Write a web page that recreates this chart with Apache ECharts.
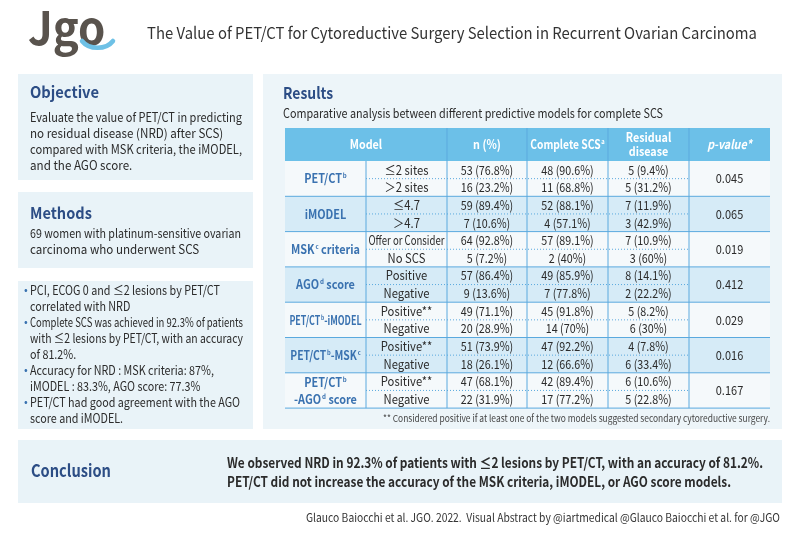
<!DOCTYPE html>
<html><head><meta charset="utf-8">
<script src="https://cdn.jsdelivr.net/npm/echarts@6/dist/echarts.min.js"></script>
<style>html,body{margin:0;padding:0;background:#fff}#c{width:800px;height:534px}</style>
</head><body><div id="c"></div>
<script>
// ---------- DATA ----------
const titleText = 'The Value of PET/CT for Cytoreductive Surgery Selection in Recurrent Ovarian Carcinoma';
const objectiveLines = ['Evaluate the value of PET/CT in predicting','no residual disease (NRD) after SCS)','compared with MSK criteria, the iMODEL,','and the AGO score.'];
const methodsLines = ['69 women with platinum-sensitive ovarian','carcinoma who underwent SCS'];
const bulletLines = [
  ['PCI, ECOG 0 and ≤2 lesions by PET/CT','correlated with NRD'],
  ['Complete SCS was achieved in 92.3% of patients','with ≤2 lesions by PET/CT, with an accuracy','of 81.2%.'],
  ['Accuracy for NRD : MSK criteria: 87%,','iMODEL : 83.3%, AGO score: 77.3%'],
  ['PET/CT had good agreement with the AGO','score and iMODEL.']
];
const resultsSubtitle = 'Comparative analysis between different predictive models for complete SCS';
const headerLabels = ['Model','n (%)','Complete SCS','Residual\ndisease','p-value*'];
const models = ['PET/CT{s|b}','iMODEL','MSK{s|c} criteria','AGO{s|d} score','PET/CT{s|b}-iMODEL','PET/CT{s|b}-MSK{s|c}','PET/CT{s|b}\n-AGO{s|d} score'];
const subLabels = ['≤2 sites','＞2 sites','≤4.7','＞4.7','Offer or Consider','No SCS','Positive','Negative','Positive**','Negative','Positive**','Negative','Positive**','Negative'];
const nCount = [53,16,59,7,64,5,57,9,49,20,51,18,47,22];
const nPct = [76.8,23.2,89.4,10.6,92.8,7.2,86.4,13.6,71.1,28.9,73.9,26.1,68.1,31.9];
const completeCount = [48,11,52,4,57,2,49,7,45,14,47,12,42,17];
const completePct = [90.6,68.8,88.1,57.1,89.1,40,85.9,77.8,91.8,70,92.2,66.6,89.4,77.2];
const residualCount = [5,5,7,3,7,3,8,2,5,6,4,6,6,5];
const residualPct = [9.4,31.2,11.9,42.9,10.9,60,14.1,22.2,8.2,30,7.8,33.4,10.6,22.8];
const pValues = ['0.045','0.065','0.019','0.412','0.029','0.016','0.167'];
const footnote = '** Considered positive if at least one of the two models suggested secondary cytoreductive surgery.';
const conclusionLines = ['We observed NRD in 92.3% of patients with ≤2 lesions by PET/CT, with an accuracy of 81.2%.','PET/CT did not increase the accuracy of the MSK criteria, iMODEL, or AGO score models.'];
const footerText = 'Glauco Baiocchi et al. JGO. 2022.  Visual Abstract by @iartmedical @Glauco Baiocchi et al. for @JGO';

// ---------- STYLE ----------
const FONT = '"Noto Sans CJK KR","Noto Sans",sans-serif';
const NAVY = '#2c4d85', PANEL = '#e9f3f8', PANEL2 = '#edf5f9', HEAD = '#6cc0e8', LINE = '#5aa9de', LIGHT = '#d6ebf7', WHITE = '#f5f9fb', GROUP = '#3a72b0', TXT = '#2b2b2b';
const colX = [285,366,447,527,608,689,770];
const headTop = 128, headBot = 161, groupH = 35.3;

const mctx = document.createElement('canvas').getContext('2d');
function measure(text,font){ mctx.font=font; return Math.max.apply(null,String(text).replace(/\{s\|([^}]*)\}/g,'$1').split('\n').map(t=>mctx.measureText(t).width)); }
const g = [];
function txt(x,y,text,opt){
  opt=opt||{};
  const font=(opt.weight||'normal')+' '+(opt.size||13)+'px '+FONT;
  let sc = opt.sx||1;
  if(opt.maxW){ const w=measure(text,font); sc=Math.min(sc,opt.maxW/w); }
  g.push({type:'text',z:opt.z||10,x:0,y:0,scaleX:sc,originX:x,originY:y,style:{x:x,y:y,text:text,fill:opt.fill||TXT,font:font,textAlign:opt.align||'left',textVerticalAlign:'middle',lineHeight:opt.lh,rich:opt.rich}});
}
function rect(x,y,w,h,fill,z){ g.push({type:'rect',z:z||1,shape:{x:x,y:y,width:w,height:h},style:{fill:fill}}); }
function line(x1,y1,x2,y2,stroke,dash,z){ g.push({type:'line',z:z||5,shape:{x1:x1,y1:y1,x2:x2,y2:y2},style:{stroke:stroke,lineWidth:1,lineDash:dash||null}}); }

// logo
txt(28,28,'Jgo',{size:46,weight:'bold',fill:'#59534d',sx:0.95});
g.push({type:'bezierCurve',z:11,shape:{x1:82,y1:41,x2:113,y2:41,cpx1:89,cpy1:50,cpx2:106,cpy2:50},style:{stroke:'#6ec1e6',lineWidth:4.5,fill:null,lineCap:'round'}});
// title
txt(147,33,titleText,{size:16.5,fill:'#333',maxW:610});

// Objective
rect(18,74,235,106,PANEL);
txt(30,92,'Objective',{size:16,weight:'bold',fill:NAVY,sx:0.92});
objectiveLines.forEach((s,i)=>txt(30,117+i*16,s,{size:12.5,sx:0.93,maxW:212}));
// Methods
rect(18,192,235,76,PANEL);
txt(30,213,'Methods',{size:16,weight:'bold',fill:NAVY,sx:0.91});
methodsLines.forEach((s,i)=>txt(30,233+i*16,s,{size:12.5,sx:0.93,maxW:211}));
// Bullets
rect(18,281,235,148,PANEL);
let ly = 290;
bulletLines.forEach(b=>{
  txt(24,ly,'•',{size:11,fill:'#3a72b0'});
  b.forEach((s,j)=>{ txt(30,ly,s,{size:12.5,sx:0.86,maxW:213}); ly+=16; });
});

// Results panel
rect(263,74,519,355,PANEL2);
txt(283,93,'Results',{size:16,weight:'bold',fill:NAVY,sx:0.87});
txt(283,113,resultsSubtitle,{size:12.5,maxW:380});
// header
rect(colX[0],headTop,colX[6]-colX[0],headBot-headTop,HEAD,2);
const hc = [(colX[0]+colX[2])/2,(colX[2]+colX[3])/2,(colX[3]+colX[4])/2,(colX[4]+colX[5])/2,(colX[5]+colX[6])/2];
headerLabels.forEach((s,i)=>{
  const hm=(headTop+headBot)/2;
  if(i===2){ txt(hc[i],hm,s+'{s|a}',{size:12.5,weight:'bold',fill:'#fff',align:'center',sx:0.82,rich:{s:{fontSize:7,fill:'#fff',fontWeight:'bold',fontFamily:'Noto Sans CJK KR',padding:[0,0,6,1]}}}); }
  else if(i===4){ txt(hc[i],hm,s,{size:12.5,weight:'italic bold',fill:'#fff',align:'center',sx:0.86}); }
  else txt(hc[i],hm,s,{size:12.5,weight:'bold',fill:'#fff',align:'center',lh:14,sx:0.86});
});
// groups
const richSup = {s:{fontSize:7,fontWeight:'bold',fill:GROUP,fontFamily:'Noto Sans CJK KR',padding:[0,0,6,1]}};
models.forEach((m,k)=>{
  const top = headBot + k*groupH, bot = top+groupH, mid = top+groupH/2;
  rect(colX[0],top,colX[6]-colX[0],groupH,(k%2===1)?LIGHT:WHITE,2);
  txt((colX[0]+colX[1])/2,mid,m,{size:12.5,weight:'bold',fill:GROUP,align:'center',lh:17,rich:richSup,sx:0.87,maxW:74});
  txt((colX[5]+colX[6])/2,mid,pValues[k],{size:12.5,align:'center',sx:0.88});
  for(let r=0;r<2;r++){
    const i=k*2+r, cy = top + groupH*(r*2+1)/4;
    txt((colX[1]+colX[2])/2,cy,subLabels[i],{size:12.5,align:'center',sx:0.9,maxW:76});
    txt((colX[2]+colX[3])/2,cy,nCount[i]+' ('+nPct[i]+'%)',{size:12.5,align:'center',sx:0.86});
    txt((colX[3]+colX[4])/2,cy,completeCount[i]+' ('+completePct[i]+'%)',{size:12.5,align:'center',sx:0.86});
    txt((colX[4]+colX[5])/2,cy,residualCount[i]+' ('+residualPct[i]+'%)',{size:12.5,align:'center',sx:0.86});
  }
  line(colX[1],mid,colX[5],mid,LINE,[1,2]);
  line(colX[0],bot,colX[6],bot,LINE);
});
const tBot = headBot + models.length*groupH;
for(let c=1;c<6;c++) line(colX[c],(c===1?headBot:headTop),colX[c],tBot,LINE);
txt(770,418,footnote,{size:9.5,fill:'#444',align:'right',maxW:387});

// Conclusion
rect(18,440,764,63,PANEL);
txt(31,471,'Conclusion',{size:17,weight:'bold',fill:NAVY,sx:0.86});
txt(227,463,conclusionLines[0],{size:14,weight:'bold',maxW:536});
txt(227,482,conclusionLines[1],{size:14,weight:'bold',maxW:504});
txt(780,518,footerText,{size:11.5,fill:'#333',align:'right',maxW:474});

const chart = echarts.init(document.getElementById('c'),null,{renderer:'canvas'});
chart.setOption({animation:false,backgroundColor:'#fff',graphic:{elements:g}});
</script></body></html>
